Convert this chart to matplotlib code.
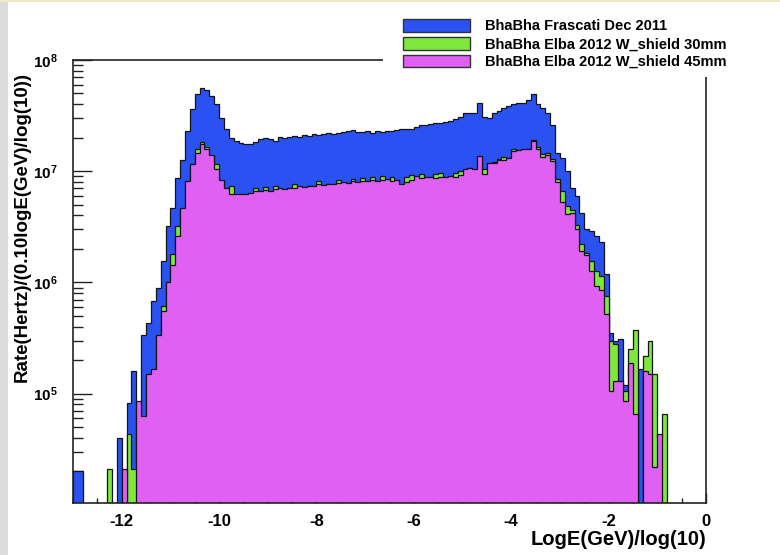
import numpy as np
import matplotlib
matplotlib.use('Agg')
import matplotlib.pyplot as plt
from matplotlib.patches import Patch, Rectangle
from matplotlib.ticker import LogLocator, MultipleLocator, NullFormatter

# ------------------------------
# Histogramas: 130 bins de 0.1 entre -13 y 0 (LogE(GeV)/log(10))
x_min, x_max, bin_width = -13.0, 0.0, 0.1

frascati_dec2011 = [
    2.0e4, 2.0e4, 0, 0, 0, 0, 0, 0, 0, 4.0e4,
    0, 8.2e4, 1.6e5, 8.0e4, 3.4e5, 4.3e5, 6.8e5, 9.0e5, 1.55e6, 3.2e6,
    4.7e6, 8.7e6, 1.27e7, 2.3e7, 3.6e7, 4.9e7, 5.6e7, 5.4e7, 4.7e7, 4.0e7,
    3.0e7, 2.4e7, 2.0e7, 1.86e7, 1.8e7, 1.74e7, 1.74e7, 1.82e7, 1.95e7, 2.0e7,
    1.95e7, 1.86e7, 2.04e7, 2.0e7, 2.04e7, 2.07e7, 2.04e7, 2.1e7, 2.07e7, 2.14e7,
    2.1e7, 2.18e7, 2.21e7, 2.17e7, 2.21e7, 2.24e7, 2.29e7, 2.34e7, 2.24e7, 2.27e7,
    2.29e7, 2.21e7, 2.29e7, 2.26e7, 2.32e7, 2.29e7, 2.37e7, 2.39e7, 2.42e7, 2.42e7,
    2.5e7, 2.6e7, 2.6e7, 2.66e7, 2.7e7, 2.73e7, 2.79e7, 2.85e7, 2.93e7, 3.1e7,
    3.35e7, 3.35e7, 3.35e7, 4.1e7, 3.1e7, 3.0e7, 3.35e7, 3.47e7, 3.7e7, 3.85e7,
    4.0e7, 4.1e7, 4.1e7, 4.4e7, 4.9e7, 4.0e7, 3.7e7, 3.35e7, 2.6e7, 1.46e7,
    1.32e7, 1.0e7, 7.1e6, 6.0e6, 4.2e6, 3.0e6, 2.9e6, 2.6e6, 2.3e6, 1.2e6,
    3.5e5, 3.0e5, 3.1e5, 1.2e5, 0, 0, 1.65e5, 0, 0, 0,
    0, 0, 0, 0, 0, 0, 0, 0, 0, 0,
]

elba_30mm = [
    0, 0, 0, 0, 0, 0, 0, 2.1e4, 0, 0,
    0, 4.3e4, 2.1e4, 8.0e4, 6.0e4, 1.4e5, 1.6e5, 3.3e5, 6.1e5, 9.5e5,
    1.8e6, 3.2e6, 4.6e6, 7.9e6, 1.12e7, 1.57e7, 1.84e7, 1.65e7, 1.38e7, 1.15e7,
    8.2e6, 7.1e6, 7.4e6, 6.1e6, 6.2e6, 6.1e6, 6.3e6, 7.1e6, 6.6e6, 7.2e6,
    6.5e6, 7.4e6, 6.9e6, 6.8e6, 7.0e6, 7.6e6, 7.2e6, 7.1e6, 7.3e6, 7.2e6,
    8.2e6, 7.4e6, 7.6e6, 7.5e6, 8.3e6, 7.9e6, 7.8e6, 8.6e6, 7.9e6, 8.7e6,
    8.0e6, 8.9e6, 8.1e6, 9.0e6, 8.4e6, 8.8e6, 8.3e6, 7.5e6, 8.8e6, 9.2e6,
    8.9e6, 9.4e6, 8.7e6, 8.8e6, 9.4e6, 9.6e6, 8.8e6, 8.9e6, 9.6e6, 1.0e7,
    1.03e7, 1.06e7, 1.03e7, 1.35e7, 1.04e7, 1.18e7, 1.22e7, 1.3e7, 1.34e7, 1.31e7,
    1.58e7, 1.53e7, 1.55e7, 1.6e7, 1.92e7, 1.66e7, 1.42e7, 1.45e7, 1.3e7, 8.5e6,
    6.6e6, 4.9e6, 4.5e6, 3.3e6, 2.2e6, 1.85e6, 1.55e6, 1.26e6, 1.14e6, 7.5e5,
    3.0e5, 2.8e5, 1.25e5, 1.05e5, 2.5e5, 3.7e5, 0, 2.2e5, 3.0e5, 1.5e5,
    4.0e4, 6.5e4, 0, 0, 0, 0, 0, 0, 0, 0,
]

elba_45mm = [
    0, 0, 0, 0, 0, 0, 0, 0, 0, 0,
    2.1e4, 0, 0, 8.6e4, 6.3e4, 1.49e5, 1.65e5, 3.4e5, 5.5e5, 1.0e6,
    1.44e6, 2.6e6, 4.7e6, 8.1e6, 1.15e7, 1.46e7, 1.74e7, 1.57e7, 1.41e7, 1.04e7,
    8.4e6, 7.0e6, 6.2e6, 6.2e6, 6.3e6, 6.2e6, 6.4e6, 6.6e6, 6.7e6, 6.8e6,
    6.6e6, 6.9e6, 7.0e6, 6.9e6, 7.1e6, 7.0e6, 7.3e6, 7.2e6, 7.4e6, 7.3e6,
    7.6e6, 7.5e6, 7.7e6, 7.6e6, 7.8e6, 8.0e6, 7.9e6, 8.1e6, 8.0e6, 8.2e6,
    8.1e6, 8.4e6, 8.2e6, 8.3e6, 8.5e6, 8.2e6, 8.4e6, 7.6e6, 8.0e6, 8.4e6,
    9.0e6, 8.7e6, 8.8e6, 8.9e6, 8.7e6, 8.8e6, 8.9e6, 9.0e6, 8.8e6, 9.3e6,
    1.04e7, 1.07e7, 1.04e7, 1.37e7, 9.5e6, 1.19e7, 1.19e7, 1.27e7, 1.27e7, 1.32e7,
    1.51e7, 1.55e7, 1.57e7, 1.57e7, 1.86e7, 1.57e7, 1.35e7, 1.4e7, 1.23e7, 8.0e6,
    5.3e6, 4.1e6, 4.2e6, 3.0e6, 1.9e6, 1.78e6, 1.26e6, 9.3e5, 8.6e5, 5.2e5,
    1.05e5, 1.3e5, 1.3e5, 8.6e4, 1.9e5, 6.5e4, 0, 1.6e5, 1.5e5, 2.2e4,
    4.3e4, 0, 0, 0, 0, 0, 0, 0, 0, 0,
]

series_labels = ['BhaBha Frascati Dec 2011',
                 'BhaBha Elba 2012 W_shield 30mm',
                 'BhaBha Elba 2012 W_shield 45mm']
series_colors = ['#2a52f2', '#7fe83c', '#e060f4']

x_ticks = [-12, -10, -8, -6, -4, -2, 0]
y_ticks = [1e5, 1e6, 1e7, 1e8]
y_tick_labels = [r'$\mathbf{10^{5}}$', r'$\mathbf{10^{6}}$',
                 r'$\mathbf{10^{7}}$', r'$\mathbf{10^{8}}$']

# ------------------------------
plt.rcParams['font.family'] = ['Liberation Sans', 'DejaVu Sans']
plt.rcParams['font.weight'] = 'bold'
plt.rcParams['axes.unicode_minus'] = False
plt.rcParams['mathtext.fontset'] = 'custom'
plt.rcParams['mathtext.rm'] = 'Liberation Sans:bold'
plt.rcParams['mathtext.bf'] = 'Liberation Sans:bold'

fig = plt.figure(figsize=(7.8, 5.55), dpi=100)
# borde gris a la izquierda y linea clara arriba (captura original)
fig.add_artist(Rectangle((0, 0), 8 / 780, 1, transform=fig.transFigure,
                         facecolor='#dcdcdc', edgecolor='none', zorder=0))
fig.add_artist(Rectangle((0, 1 - 2 / 555), 1, 2 / 555, transform=fig.transFigure,
                         facecolor='#f1e8bf', edgecolor='none', zorder=0))

ax = fig.add_axes([73 / 780, 1 - 503 / 555, 633 / 780, 443 / 555])

edges = np.linspace(x_min, x_max, len(frascati_dec2011) + 1)
piso = 1.0  # los bins vacios bajan fuera del eje log
for vals, color in zip([frascati_dec2011, elba_30mm, elba_45mm], series_colors):
    ax.stairs(np.maximum(vals, piso), edges, baseline=piso, fill=True,
              facecolor=color, edgecolor='#141414', linewidth=0.9)

ax.set_yscale('log')
ax.set_xlim(x_min, x_max)
ax.set_ylim(1.04e4, 1e8)

ax.set_xticks(x_ticks)
ax.set_xticklabels([str(t) for t in x_ticks])
ax.xaxis.set_minor_locator(MultipleLocator(0.5))
ax.set_yticks(y_ticks)
ax.set_yticklabels(y_tick_labels)
ax.yaxis.set_minor_locator(LogLocator(base=10, subs=np.arange(2, 10)))
ax.yaxis.set_minor_formatter(NullFormatter())

ax.set_axisbelow(True)
ax.tick_params(which='both', direction='in', top=False, right=False, color='#222222')
ax.tick_params(axis='y', which='major', length=14, width=1, labelsize=11, pad=11)
ax.tick_params(axis='y', which='minor', length=7, width=1)
ax.tick_params(axis='x', which='major', length=7, width=1, labelsize=12, pad=8)
ax.tick_params(axis='x', which='minor', length=3.6, width=1)
for s in ax.spines.values():
    s.set_linewidth(1.2)
    s.set_color('#222222')

ax.set_xlabel('LogE(GeV)/log(10)', fontsize=14.5, fontweight='bold', loc='right')
ax.xaxis.set_label_coords(1.0, -0.06)
ax.set_ylabel('Rate(Hertz)/(0.10logE(GeV)/log(10))', fontsize=13.5, fontweight='bold', loc='top')
ax.yaxis.set_label_coords(-0.067, 0.973)

# caja blanca de la leyenda (tapa el marco arriba a la derecha)
fig.add_artist(Rectangle((383 / 780, 1 - 77 / 555), 397 / 780, 60 / 555,
                         transform=fig.transFigure, facecolor='white',
                         edgecolor='none', zorder=4))
handles = [Patch(facecolor=c, edgecolor='#333333', linewidth=1) for c in series_colors]
leg = fig.legend(handles, series_labels, loc='upper left',
                 bbox_to_anchor=(403 / 780, 1 - 19 / 555), frameon=False,
                 fontsize=10.5, handlelength=4.6, handleheight=0.95, handletextpad=1.0,
                 labelspacing=0.25, borderpad=0, borderaxespad=0)
leg.set_zorder(5)

fig.savefig('out.png', dpi=100)
